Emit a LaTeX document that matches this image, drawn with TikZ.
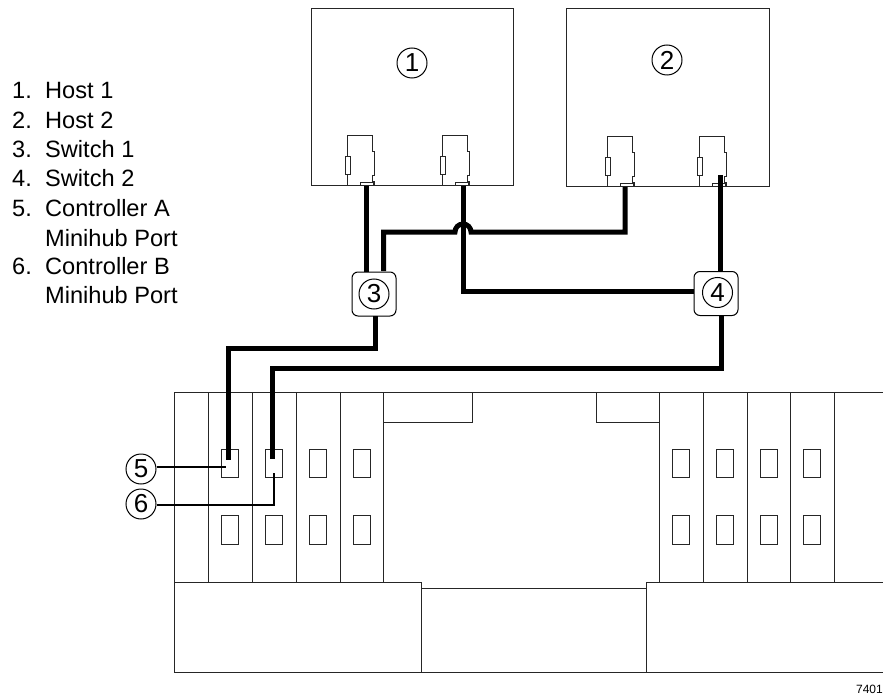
\documentclass[tikz,border=0pt]{standalone}
\usepackage{fontspec}
\setmainfont{Liberation Sans}
\tikzset{
 thin line/.style={draw=black!85,line width=1pt},
 cable/.style={draw=black,line width=5pt,line join=miter},
 leader/.style={draw=black,line width=1.7pt},
 callout/.style={circle,draw=black,line width=1pt,minimum size=30pt,inner sep=0pt,font=\fontsize{26}{26}\selectfont,fill=white},
 switchbox/.style={rectangle,rounded corners=6pt,draw=black,line width=1pt,minimum size=44pt,inner sep=0pt,fill=white},
 legend/.style={anchor=base west,inner sep=0pt,font=\fontsize{23.6}{23.6}\selectfont},
 port/.style={thin line,fill=white}
}
\newcommand{\lnum}[1]{\makebox[33pt][l]{#1}}
\newcommand{\hba}[2]{% x left, y bottom
 \draw[thin line] (#1,#2) -- (#1,#2-50) -- (#1+25,#2-50) -- (#1+25,#2-34) -- (#1+27,#2-34) -- (#1+27,#2-10) -- (#1+25,#2-10) -- (#1+25,#2-4) -- (#1+27,#2-4) -- (#1+27,#2) -- cycle;
 \draw[thin line,fill=white] (#1-2,#2-29) rectangle (#1+3,#2-11);
 \draw[thin line,fill=white] (#1+13,#2-3) rectangle (#1+26,#2);
}
\begin{document}
\begin{tikzpicture}[x=1pt,y=-1pt]
\useasboundingbox (0,0) rectangle (883,695);
% legend
\node[legend] (l1) at (12,99) {\lnum{1.}Host 1};
\node[legend] (l2) at (12,129) {\lnum{2.}Host 2};
\node[legend] (l3) at (12,158) {\lnum{3.}Switch 1};
\node[legend] (l4) at (12,187) {\lnum{4.}Switch 2};
\node[legend] (l5) at (12,216) {\lnum{5.}Controller A};
\node[legend] (l5b) at (45,246) {Minihub Port};
\node[legend] (l6) at (12,274) {\lnum{6.}Controller B};
\node[legend] (l6b) at (45,303) {Minihub Port};
% hosts
\draw[thin line] (311,9) rectangle (513,186);
\draw[thin line] (566,9) rectangle (769,187);
\node[callout] (c1) at (412,63) {1};
\node[callout] (c2) at (667,60) {2};
\hba{347}{186}\hba{442}{186}\hba{607}{187}\hba{699}{187}
% chassis
\draw[thin line] (174,582) -- (174,392) -- (883,392);
\foreach \x in {208,252,296,340,659,703,747,790}{\draw[thin line] (\x,392) -- (\x,582);}
\draw[thin line] (383,392) -- (383,582);
\draw[thin line] (834,392) -- (834,582);
\draw[thin line] (383,422) -- (472,422) -- (472,392);
\draw[thin line] (596,392) -- (596,422) -- (659,422);
\draw[thin line] (174,672) -- (174,582) -- (421.5,582) -- (421.5,672);
\draw[thin line] (421.5,588) -- (646,588);
\draw[thin line] (646,672) -- (646,582) -- (883,582);
\draw[thin line] (174,672) -- (883,672);
\foreach \x in {221,265,309,353,672,716,760,803}{
 \draw[port] (\x,449) rectangle (\x+17,477);
 \draw[port] (\x,515) rectangle (\x+17,544);
}
% switches
\node[switchbox] (s3) at (374,294) {};
\node[switchbox] (s4) at (716,293.5) {};
\node[callout] (c3) at (s3) {3};
\node[callout] (c4) at (717.5,292.5) {4};
% cables
\coordinate (h1a) at (366,186);
\coordinate (h1b) at (463,186);
\coordinate (h2a) at (625,187);
\coordinate (h2b) at (720,175);
\coordinate (p5) at (228.5,460);
\coordinate (p6) at (272.5,459);
\draw[cable] (h1a) -- (h1a |- s3.north);
\draw[cable] (h2a) -- (625,232) -- (471,232) arc[start angle=0,end angle=-180,radius=8] -- (383.5,232) -- (383.5,271);
\draw[cable] (h1b) -- (463,291) -- (s4.west |- 0,291);
\draw[cable] (h2b) -- (h2b |- s4.north);
\draw[cable] (375,316) -- (375,348) -- (228.5,348) -- (p5);
\draw[cable] (721,315) -- (721,368) -- (272.5,368) -- (p6);
% callouts 5, 6
\node[callout] (c5) at (141,469) {5};
\node[callout] (c6) at (141,504) {6};
\coordinate (t5) at (226,467);
\coordinate (t6) at (274,473);
\draw[leader] (c5.east |- t5) -- (t5);
\draw[leader] (c6.east |- 0,505) -- (274,505) -- (t6);
\node[anchor=base east,inner sep=0pt,font=\fontsize{12}{12}\selectfont] (num) at (883,693) {7401};
\end{tikzpicture}
\end{document}
